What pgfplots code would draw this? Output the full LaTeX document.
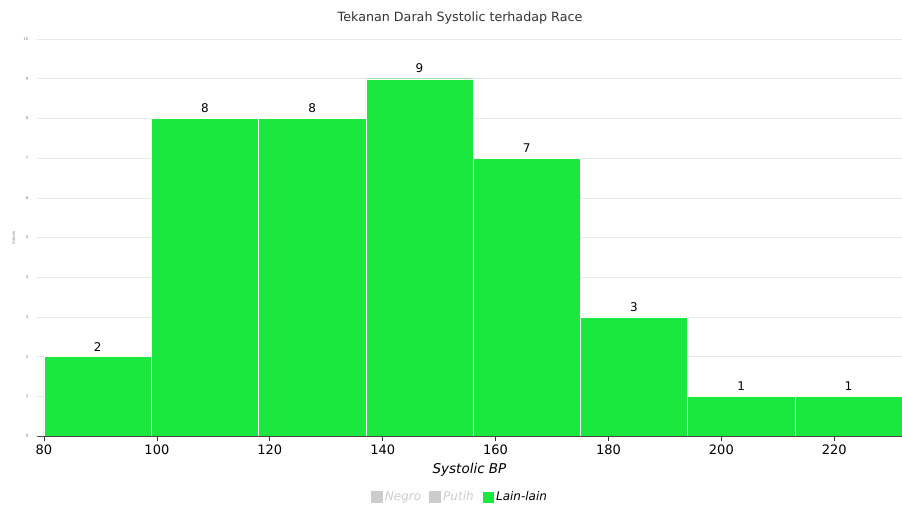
\documentclass[border=0pt]{standalone}
\usepackage{pgfplots}
\pgfplotsset{compat=1.18}
\usepackage{fontspec}
\setmainfont{DejaVu Sans}
\definecolor{bargreen}{HTML}{1AE83E}
\definecolor{txt}{HTML}{333333}
\definecolor{lgray}{HTML}{CCCCCC}
\begin{document}
\begin{tikzpicture}[x=1pt,y=1pt]
\path[use as bounding box] (0,0) rectangle (902,507);
\begin{axis}[
  at={(37pt,71pt)}, anchor=south west, scale only axis,
  width=865pt, height=397pt,
  xmin=78.76, xmax=232, ymin=0, ymax=10,
  /pgf/number format/assume math mode=true,
  axis lines*=left,
  x axis line style={draw=none},
  y axis line style={draw=none},
  xtick={80,100,...,220},
  ytick={0,1,...,10},
  tick align=outside,
  xtick pos=bottom,
  major tick length=5pt,
  xtick style={draw=txt, line width=0.6pt},
  ytick style={draw=none},
  xticklabel style={font=\fontsize{13}{13}\selectfont, text=black, yshift=0pt},
  yticklabel style={font=\fontsize{4}{4}\selectfont, text=gray},
  ymajorgrids, grid style={draw=gray!18, line width=0.5pt},
  xlabel={\itshape Systolic BP},
  xlabel style={at={(axis description cs:0.5,-0.085)}, anchor=center, font=\fontsize{13.5}{13.5}\selectfont, text=black},
  ylabel={Values},
  ylabel style={font=\fontsize{4}{4}\selectfont, text=gray, at={(axis description cs:-0.027,0.5)}, anchor=center},
  legend style={at={(axis description cs:0.489,-0.154)}, anchor=center, draw=none, fill=none,
    legend columns=3, font=\fontsize{12}{12}\selectfont\itshape,
    /tikz/every even column/.append style={column sep=6pt}},
  legend image code/.code={\fill (0pt,-6pt) rectangle (12pt,6pt);},
]
\addlegendimage{fill=lgray, draw=none}
\addlegendentry{\textcolor{lgray}{Negro}}
\addlegendimage{fill=lgray, draw=none}
\addlegendentry{\textcolor{lgray}{Putih}}
\addplot[ybar interval, fill=bargreen, draw=white, line width=0.4pt]
  coordinates {(80,2) (99,8) (118,8) (137,9) (156,7) (175,3) (194,1) (213,1) (232,1)};
\addlegendentry{\textcolor{black}{Lain-lain}}
\addplot[draw=none, mark=none, forget plot, nodes near coords,
  nodes near coords style={font=\fontsize{12}{12}\selectfont, text=black, yshift=2pt}]
  coordinates {(89.5,2) (108.5,8) (127.5,8) (146.5,9) (165.5,7) (184.5,3) (203.5,1) (222.5,1)};
\draw[txt!90, line width=0.8pt] (rel axis cs:0,0) -- (rel axis cs:1,0);
\end{axis}
\node[font=\fontsize{12.7}{12.7}\selectfont, text=txt] at (460,489) {Tekanan Darah Systolic terhadap Race};
\end{tikzpicture}
\end{document}
